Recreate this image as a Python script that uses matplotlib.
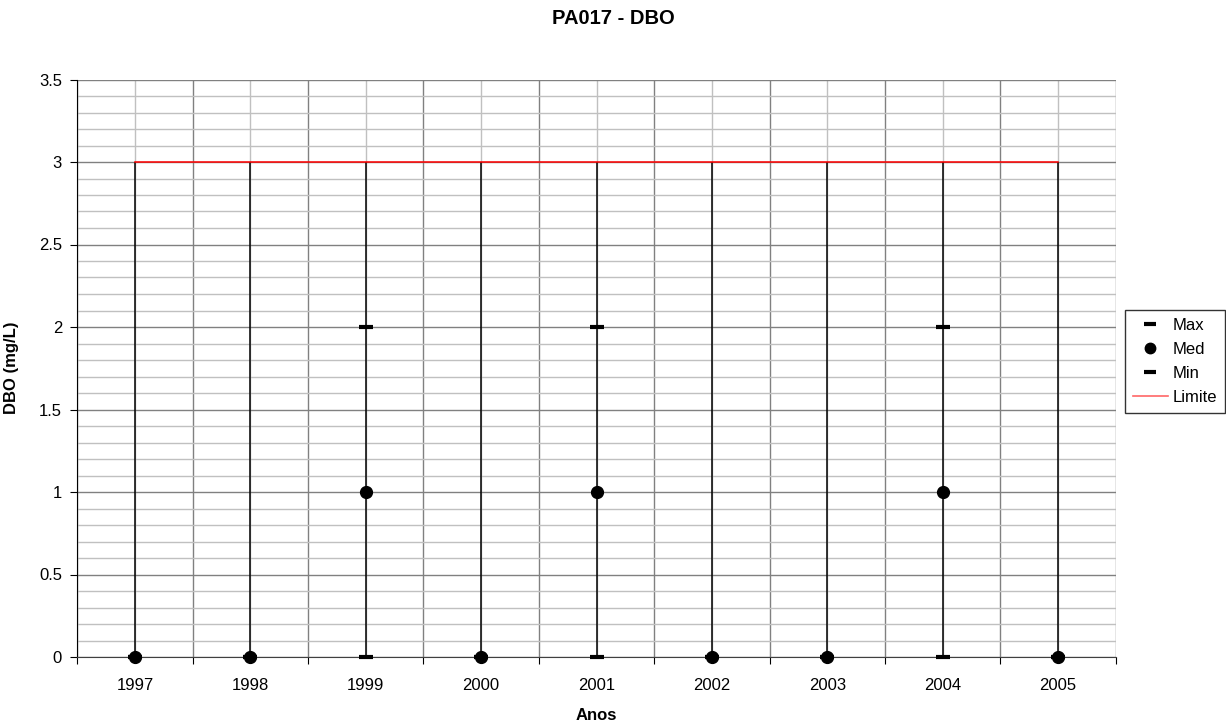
import matplotlib
matplotlib.use('Agg')
import matplotlib.pyplot as plt
import numpy as np
from matplotlib.lines import Line2D
from matplotlib.ticker import MultipleLocator, FixedLocator

plt.rcParams['font.family'] = ['Liberation Sans', 'DejaVu Sans']

# data
anos = ['1997', '1998', '1999', '2000', '2001', '2002', '2003', '2004', '2005']
dbo_max = [0, 0, 2, 0, 2, 0, 0, 2, 0]
dbo_med = [0, 0, 1, 0, 1, 0, 0, 1, 0]
dbo_min = [0, 0, 0, 0, 0, 0, 0, 0, 0]
limite = [3, 3, 3, 3, 3, 3, 3, 3, 3]

FS = 12
fig = plt.figure(figsize=(12.26, 7.22), dpi=100)
ax = fig.add_axes([77.3 / 1226, 1 - 657 / 722, (1115.7 - 77.3) / 1226, (657 - 79.5) / 722])

x = np.arange(len(anos))

# high-low lines across all series
hi = np.max([dbo_max, dbo_med, dbo_min, limite], axis=0)
lo = np.min([dbo_max, dbo_med, dbo_min, limite], axis=0)
ax.vlines(x, lo, hi, color='black', lw=1.1, zorder=3)

ax.plot(x, limite, color='#ff0000', lw=1.1, zorder=4)
ax.plot(x, dbo_max, ls='none', marker='_', ms=10, mew=3, color='black', zorder=5, clip_on=False)
ax.plot(x, dbo_min, ls='none', marker='_', ms=10, mew=3, color='black', zorder=5, clip_on=False)
ax.plot(x, dbo_med, ls='none', marker='o', ms=8.5, color='black', zorder=6, clip_on=False)

ax.set_xlim(-0.5, len(anos) - 0.5)
ax.set_ylim(0, 3.5)

# grid: category boundaries (major) and centers (minor)
ax.xaxis.set_major_locator(FixedLocator(np.arange(-0.5, len(anos), 1.0)))
ax.xaxis.set_minor_locator(FixedLocator(x))
ax.set_xticklabels([])
ax.set_xticklabels(anos, minor=True)
ax.tick_params(axis='x', which='minor', length=0, pad=15, labelsize=FS)
ax.tick_params(axis='x', which='major', length=5, direction='out', color='black')
ax.yaxis.set_major_locator(MultipleLocator(0.5))
ax.yaxis.set_minor_locator(MultipleLocator(0.1))
ax.tick_params(axis='y', which='major', length=5, direction='out', labelsize=FS, pad=6)
ax.tick_params(axis='y', which='minor', length=0)
ax.set_yticks(np.arange(0, 3.51, 0.5))
ax.set_yticklabels(['0', '0.5', '1', '1.5', '2', '2.5', '3', '3.5'])

ax.grid(True, which='major', color='#808080', lw=1.0)
ax.grid(True, which='minor', color='#c0c0c0', lw=1.0)
ax.set_axisbelow(True)

for s in ['top', 'right']:
    ax.spines[s].set_visible(False)
ax.spines['left'].set_color('black')
ax.spines['bottom'].set_color('#404040')

ax.set_ylabel('DBO (mg/L)', fontsize=FS, fontweight='bold', labelpad=14)
ax.set_xlabel('Anos', fontsize=FS, fontweight='bold', labelpad=11)
fig.text(0.5, 1 - 18.5 / 722, 'PA017 - DBO', ha='center', va='center', fontsize=14.5, fontweight='bold')

handles = [
    Line2D([0], [0], ls='none', marker='_', ms=8, mew=3, color='black', label='Max'),
    Line2D([0], [0], ls='none', marker='o', ms=7.5, color='black', label='Med'),
    Line2D([0], [0], ls='none', marker='_', ms=8, mew=3, color='black', label='Min'),
    Line2D([0], [0], color='#ff6666', lw=1.2, label='Limite'),
]
leg = fig.legend(handles=handles, loc='upper left', bbox_to_anchor=(1125 / 1226, 1 - 310 / 722),
                 fontsize=FS, frameon=True, fancybox=False, edgecolor='black',
                 handlelength=2.1, handletextpad=0.3, borderpad=0.45, labelspacing=0.55,
                 borderaxespad=0)
leg.get_frame().set_linewidth(1.0)

fig.savefig('out.png', dpi=100)
